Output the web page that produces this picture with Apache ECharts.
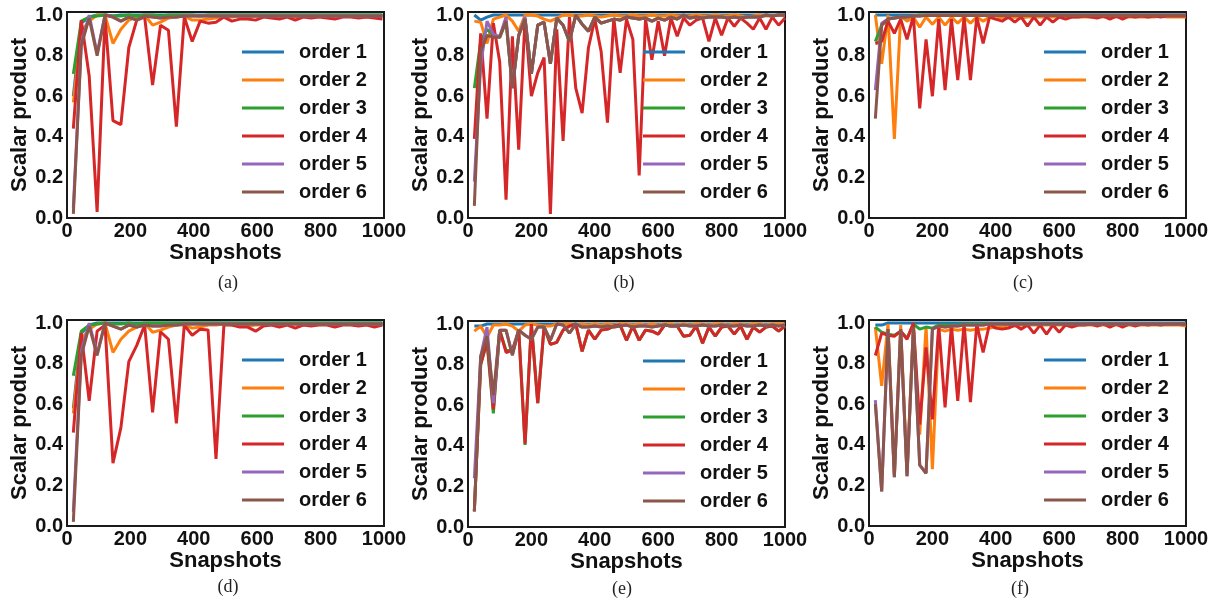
<!DOCTYPE html>
<html><head><meta charset="utf-8">
<script src="https://cdn.jsdelivr.net/npm/echarts@6/dist/echarts.min.js"></script>
<style>html,body{margin:0;padding:0;background:#fff}#c{width:1216px;height:604px}</style>
</head><body><div id="c"></div>
<script>
const orderNames = ['order 1','order 2','order 3','order 4','order 5','order 6'];
const palette = ['#1f77b4','#ff7f0e','#2ca02c','#d62728','#9467bd','#8c564b'];
const captions = ['(a)','(b)','(c)','(d)','(e)','(f)'];

// snapshots (x values)
const snapA = [20,45,70,95,120,145,170,195,220,245,270,295,320,345,370,395,420,445,470,495,520,545,570,595,620,645,670,695,720,745,770,795,820,845,870,895,920,945,970,995];
const snapB = [20,40,60,80,100,120,140,160,180,200,220,240,260,280,300,320,340,360,380,400,420,440,460,480,500,520,540,560,580,600,620,640,660,680,700,720,740,760,780,800,820,840,860,880,900,920,940,960,980,1000];

// panel (a)
const a1 = [0.60,0.96,0.99,1.0,1.0,0.995,1.0,1.0,1.0,1.0, 1.0,1.0,1.0,1.0,1.0,1.0,1.0,1.0,1.0,1.0, 1.0,1.0,1.0,1.0,1.0,1.0,1.0,1.0,1.0,1.0, 1.0,1.0,1.0,1.0,1.0,1.0,1.0,1.0,1.0,1.0];
const a2 = [0.57,0.92,0.97,1.0,1.0,0.86,0.93,0.975,0.99,1.0, 0.95,0.965,0.985,0.99,0.995,0.975,0.975,0.98,0.985,0.99, 0.99,0.995,0.99,0.995,0.995,0.99,0.995,0.995,0.99,0.995, 0.995,0.995,0.99,0.995,0.995,0.995,0.995,0.99,0.995,0.995];
const a3 = [0.71,0.97,0.99,0.995,1.0,0.995,0.995,1.0,0.995,1.0, 1.0,0.995,1.0,1.0,1.0,1.0,0.995,1.0,1.0,1.0, 1.0,1.0,1.0,1.0,1.0,1.0,1.0,1.0,1.0,1.0, 1.0,1.0,1.0,1.0,1.0,1.0,1.0,1.0,1.0,1.0];
const a4 = [0.44,0.975,0.70,0.03,0.99,0.48,0.46,0.84,0.975,0.99, 0.655,0.95,0.925,0.45,0.99,0.87,0.97,0.96,0.965,0.99, 0.97,0.98,0.98,0.975,0.99,0.985,0.98,0.99,0.975,0.99, 0.985,0.99,0.985,0.98,0.99,0.99,0.985,0.99,0.985,0.98];
const a5 = [0.05,0.86,1.0,0.81,1.0,0.99,0.97,0.99,0.975,0.995, 0.99,0.985,0.99,0.99,0.995,0.995,0.995,0.995,0.995,0.995, 0.995,0.995,0.995,0.995,0.995,0.995,0.995,0.995,0.995,0.995, 0.995,0.995,0.995,0.995,0.995,0.995,0.995,0.995,0.995,0.995];
const a6 = [0.02,0.85,0.985,0.80,1.0,0.99,0.97,0.99,0.975,0.995, 0.99,0.985,0.99,0.99,0.995,0.995,0.995,0.995,0.995,0.995, 0.995,0.995,0.995,0.995,0.995,0.995,0.995,0.995,0.995,0.995, 0.995,0.995,0.995,0.995,0.995,0.995,0.995,0.995,0.995,0.995];

// panel (b)
const b1 = [1.0,0.975,0.99,1.0,1.0,1.0,1.0,1.0,1.0,1.0, 1.0,1.0,1.0,1.0,1.0,1.0,1.0,1.0,1.0,1.0, 1.0,1.0,1.0,1.0,1.0,1.0,1.0,1.0,1.0,1.0, 1.0,1.0,1.0,1.0,1.0,1.0,1.0,1.0,1.0,1.0, 1.0,1.0,1.0,1.0,1.0,1.0,1.0,1.0,1.0,1.0];
const b2 = [0.97,0.965,0.86,0.98,0.99,1.0,0.97,0.92,1.0,1.0, 0.995,0.98,0.97,0.985,1.0,1.0,0.995,0.995,1.0,0.995, 0.99,0.995,1.0,0.995,0.995,1.0,0.995,0.995,1.0,0.995, 0.995,1.0,0.995,0.995,0.995,1.0,0.995,0.995,1.0,0.995, 0.995,1.0,0.995,0.99,0.995,1.0,0.995,0.995,1.0,0.995];
const b3 = [0.64,0.87,0.93,0.90,0.89,0.97,0.64,0.90,0.98,0.71, 0.95,0.965,0.76,0.985,0.95,0.87,1.0,0.955,0.92,0.99, 0.96,0.97,0.98,0.975,0.99,0.985,0.98,0.985,0.97,0.985, 0.975,0.99,0.98,1.0,0.985,0.99,0.985,0.99,0.99,0.99, 0.985,0.99,0.985,0.99,0.99,0.99,1.0,0.995,1.0,1.0];
const b4 = [0.39,0.91,0.49,0.96,0.77,0.09,0.895,0.337,0.985,0.60, 0.715,0.79,0.02,0.93,0.38,0.99,0.64,0.517,0.84,0.98, 0.82,0.47,0.985,0.715,0.98,0.88,0.21,0.98,0.78,0.97, 0.80,0.985,0.895,0.985,0.95,0.975,0.985,0.87,0.985,0.90, 0.985,0.945,0.985,0.96,0.93,0.985,0.93,0.99,0.95,0.985];
const b5 = [0.18,0.75,0.97,0.905,0.895,0.99,0.64,0.90,0.99,0.71, 0.95,0.965,0.76,0.985,0.95,0.87,1.0,0.955,0.92,0.99, 0.96,0.97,0.98,0.975,0.99,0.985,0.98,0.985,0.97,0.985, 0.975,0.99,0.98,1.0,0.985,0.99,0.985,0.99,0.99,0.99, 0.985,0.99,0.985,0.99,0.99,0.99,1.0,0.995,1.0,1.0];
const b6 = [0.06,0.82,0.90,0.89,0.89,0.97,0.64,0.90,0.98,0.71, 0.95,0.965,0.76,0.985,0.95,0.87,1.0,0.955,0.92,0.99, 0.96,0.97,0.98,0.975,0.99,0.985,0.98,0.985,0.97,0.985, 0.975,0.99,0.98,1.0,0.985,0.99,0.985,0.99,0.99,0.99, 0.985,0.99,0.985,0.99,0.99,0.99,1.0,0.995,1.0,1.0];

// panel (c)
const c1 = [1.0,1.0,1.0,1.0,1.0,1.0,1.0,1.0,1.0,1.0, 1.0,1.0,1.0,1.0,1.0,1.0,1.0,1.0,1.0,1.0, 1.0,1.0,1.0,1.0,1.0,1.0,1.0,1.0,1.0,1.0, 1.0,1.0,1.0,1.0,1.0,1.0,1.0,1.0,1.0,1.0, 1.0,1.0,1.0,1.0,1.0,1.0,1.0,1.0,1.0,1.0];
const c2 = [1.0,0.76,1.0,0.39,0.995,0.97,0.99,0.94,0.99,0.955, 0.99,0.95,0.99,0.96,0.99,0.96,0.99,0.97,0.99,0.98, 0.99,0.985,0.99,0.985,0.99,0.99,0.99,0.99,0.99,0.99, 0.99,0.99,0.99,0.99,0.99,0.995,0.99,0.99,0.99,0.99, 0.99,0.99,0.99,0.99,0.99,0.995,0.99,0.99,0.99,0.99];
const c3 = [0.87,0.95,0.98,0.985,0.99,0.99,0.995,1.0,1.0,1.0, 1.0,1.0,1.0,1.0,1.0,1.0,1.0,1.0,1.0,1.0, 1.0,1.0,1.0,1.0,1.0,1.0,1.0,1.0,1.0,1.0, 1.0,1.0,1.0,1.0,1.0,1.0,1.0,1.0,1.0,1.0, 1.0,1.0,1.0,1.0,1.0,1.0,1.0,1.0,1.0,1.0];
const c4 = [0.86,0.87,0.97,0.91,0.98,0.88,0.995,0.54,0.88,0.60, 0.98,0.63,0.98,0.68,0.99,0.68,0.99,0.86,0.99,0.98, 0.97,0.99,0.965,0.99,0.945,0.99,0.95,0.99,0.965,0.99, 0.98,0.99,0.99,0.995,0.99,0.985,0.995,0.98,0.995,0.98, 0.995,0.99,0.995,0.99,0.995,0.99,0.995,0.995,0.995,0.995];
const c5 = [0.63,0.96,0.98,0.985,0.99,0.99,0.995,0.995,1.0,1.0, 1.0,1.0,1.0,1.0,1.0,1.0,1.0,1.0,1.0,1.0, 1.0,1.0,1.0,1.0,1.0,1.0,1.0,1.0,1.0,1.0, 1.0,1.0,1.0,1.0,1.0,1.0,1.0,1.0,1.0,1.0, 1.0,1.0,1.0,1.0,1.0,1.0,1.0,1.0,1.0,1.0];
const c6 = [0.49,0.95,0.98,0.985,0.99,0.99,0.995,0.995,0.998,0.998, 0.998,0.998,0.998,0.998,0.998,0.998,0.998,0.998,0.998,0.998, 0.998,0.998,0.998,0.998,0.998,0.998,0.998,0.998,0.998,0.998, 0.998,0.998,0.998,0.998,0.998,0.998,0.998,0.998,0.998,0.998, 0.998,0.998,0.998,0.998,0.998,0.998,0.998,0.998,0.998,0.998];

// panel (d)
const d1 = [0.58,0.95,0.99,1.0,1.0,1.0,1.0,1.0,1.0,1.0, 1.0,1.0,1.0,1.0,1.0,1.0,1.0,1.0,1.0,1.0, 1.0,1.0,1.0,1.0,1.0,1.0,1.0,1.0,1.0,1.0, 1.0,1.0,1.0,1.0,1.0,1.0,1.0,1.0,1.0,1.0];
const d2 = [0.555,0.92,0.97,0.995,1.0,0.855,0.92,0.96,0.98,1.0, 0.955,0.965,0.98,0.99,0.99,0.975,0.98,0.99,0.99,0.995, 0.99,0.99,0.985,0.99,0.99,0.995,0.99,0.995,0.995,0.99, 0.995,0.995,0.995,0.99,0.995,0.995,0.995,0.995,0.99,0.995];
const d3 = [0.74,0.96,0.99,0.995,1.0,0.995,0.995,1.0,0.995,1.0, 1.0,1.0,1.0,1.0,1.0,1.0,1.0,1.0,1.0,1.0, 1.0,1.0,1.0,1.0,1.0,1.0,1.0,1.0,1.0,1.0, 1.0,1.0,1.0,1.0,1.0,1.0,1.0,1.0,1.0,1.0];
const d4 = [0.46,0.95,0.617,0.96,0.99,0.31,0.485,0.81,0.89,0.99, 0.56,0.957,0.92,0.506,0.99,0.94,0.97,0.966,0.33,0.99, 0.99,0.98,0.98,0.96,0.985,0.99,0.98,0.99,0.975,0.99, 0.985,0.99,0.99,0.98,0.99,0.99,0.985,0.99,0.98,0.99];
const d5 = [0.07,0.86,1.0,0.85,1.0,0.985,0.97,0.99,0.98,0.99, 0.985,0.985,0.99,0.99,0.995,0.995,0.995,0.995,0.995,0.995, 0.995,0.995,0.995,0.995,0.995,0.995,0.995,0.995,0.995,0.995, 0.995,0.995,0.995,0.995,0.995,0.995,0.995,0.995,0.995,0.995];
const d6 = [0.02,0.84,0.985,0.84,1.0,0.985,0.97,0.99,0.98,0.99, 0.985,0.985,0.99,0.99,0.995,0.995,0.995,0.995,0.995,0.995, 0.995,0.995,0.995,0.995,0.995,0.995,0.995,0.995,0.995,0.995, 0.995,0.995,0.995,0.995,0.995,0.995,0.995,0.995,0.995,0.995];

// panel (e)
const e1 = [0.99,0.99,1.0,1.0,1.0,1.0,1.0,1.0,1.0,1.0, 1.0,1.0,1.0,1.0,1.0,1.0,1.0,1.0,1.0,1.0, 1.0,1.0,1.0,1.0,1.0,1.0,1.0,1.0,1.0,1.0, 1.0,1.0,1.0,1.0,1.0,1.0,1.0,1.0,1.0,1.0, 1.0,1.0,1.0,1.0,1.0,1.0,1.0,1.0,1.0,1.0];
const e2 = [0.965,0.99,0.935,0.995,0.995,1.0,0.99,0.965,0.995,1.0, 0.995,0.99,0.99,1.0,1.0,1.0,0.995,1.0,0.995,1.0, 0.995,1.0,0.995,1.0,1.0,0.995,1.0,0.995,1.0,0.995, 1.0,1.0,0.995,1.0,0.995,1.0,1.0,0.995,1.0,1.0, 0.995,1.0,1.0,0.995,1.0,1.0,0.995,1.0,1.0,1.0];
const e3 = [0.08,0.80,0.91,0.56,0.97,0.87,0.87,0.97,0.405,1.0, 0.61,0.985,0.90,0.91,0.97,0.99,1.0,0.865,0.97,0.925, 0.97,0.975,0.99,0.995,0.92,0.99,0.92,0.97,0.965,0.95, 0.995,0.99,0.99,0.94,0.945,0.99,0.905,0.985,0.94,0.985, 0.99,0.95,0.99,0.925,0.985,0.96,0.985,0.99,0.965,0.99];
const e4 = [0.08,0.80,0.92,0.58,0.97,0.86,0.87,0.97,0.41,1.0, 0.61,0.985,0.90,0.91,0.97,0.99,1.0,0.865,0.97,0.925, 0.97,0.975,0.99,0.995,0.92,0.99,0.92,0.97,0.965,0.95, 0.995,0.99,0.99,0.94,0.945,0.99,0.905,0.985,0.94,0.985, 0.99,0.95,0.99,0.925,0.985,0.96,0.985,0.99,0.965,0.99];
const e5 = [0.24,0.84,0.985,0.61,0.97,0.97,0.85,0.97,0.945,0.925, 0.985,0.985,0.92,1.0,0.995,0.955,1.0,0.985,0.985,0.99, 0.985,0.99,0.985,0.99,0.995,0.985,0.99,0.99,0.985,0.99, 0.995,0.99,0.99,0.995,0.99,0.99,0.995,0.99,0.99,0.995, 0.99,0.99,0.995,0.99,0.99,0.995,0.99,0.995,0.99,0.995];
const e6 = [0.075,0.84,0.94,0.65,0.97,0.97,0.845,0.97,0.945,0.925, 0.985,0.985,0.92,1.0,0.995,0.955,1.0,0.985,0.985,0.99, 0.985,0.99,0.985,0.99,0.995,0.985,0.99,0.99,0.985,0.99, 0.995,0.99,0.99,0.995,0.99,0.99,0.995,0.99,0.99,0.995, 0.99,0.99,0.995,0.99,0.99,0.995,0.99,0.995,0.99,0.995];

// panel (f)
const f1 = [0.99,0.99,1.0,1.0,1.0,1.0,1.0,1.0,1.0,1.0, 1.0,1.0,1.0,1.0,1.0,1.0,1.0,1.0,1.0,1.0, 1.0,1.0,1.0,1.0,1.0,1.0,1.0,1.0,1.0,1.0, 1.0,1.0,1.0,1.0,1.0,1.0,1.0,1.0,1.0,1.0, 1.0,1.0,1.0,1.0,1.0,1.0,1.0,1.0,1.0,1.0];
const f2 = [0.98,0.69,0.995,0.25,0.99,0.26,0.99,0.45,0.985,0.28, 0.97,0.96,0.97,0.965,0.97,0.965,0.97,0.97,0.975,0.98, 0.98,0.985,0.985,0.99,0.99,0.99,0.99,0.99,0.99,0.99, 0.99,0.99,0.99,0.99,0.99,0.99,0.99,0.99,0.99,0.99, 0.99,0.99,0.99,0.99,0.99,0.99,0.99,0.99,0.99,0.985];
const f3 = [0.98,0.955,0.945,0.94,0.96,0.925,0.995,0.97,0.98,0.975, 0.99,0.99,0.99,0.99,0.995,0.995,0.995,0.995,0.995,0.995, 0.995,0.995,0.995,0.995,0.995,0.995,0.995,0.995,0.995,0.995, 0.995,0.995,0.995,0.995,0.995,0.995,0.995,0.995,0.995,0.995, 0.995,0.995,0.995,0.995,0.995,0.995,0.995,0.995,0.995,0.995];
const f4 = [0.84,0.95,0.94,0.935,0.96,0.92,1.0,0.50,0.88,0.525, 0.99,0.585,0.99,0.617,1.0,0.61,0.995,0.855,0.995,0.975, 0.97,0.975,0.99,0.97,0.99,0.95,0.99,0.945,0.99,0.955, 0.99,0.98,0.99,0.99,0.995,0.985,0.995,0.98,0.995,0.98, 0.995,0.985,0.995,0.99,0.995,0.99,0.995,0.995,0.995,0.995];
const f5 = [0.62,0.17,0.97,0.24,0.97,0.245,0.98,0.30,0.26,0.97, 0.985,0.98,0.985,0.985,0.99,0.99,0.99,0.99,0.995,0.995, 0.995,0.995,0.995,0.995,0.995,0.995,0.995,0.995,0.995,0.995, 0.995,0.995,0.995,0.995,0.995,0.995,0.995,0.995,0.995,0.995, 0.995,0.995,0.995,0.995,0.995,0.995,0.995,0.995,0.995,0.995];
const f6 = [0.60,0.17,0.97,0.24,0.97,0.245,0.98,0.30,0.26,0.97, 0.985,0.98,0.985,0.985,0.99,0.99,0.99,0.99,0.995,0.995, 0.995,0.995,0.995,0.995,0.995,0.995,0.995,0.995,0.995,0.995, 0.995,0.995,0.995,0.995,0.995,0.995,0.995,0.995,0.995,0.995, 0.995,0.995,0.995,0.995,0.995,0.995,0.995,0.995,0.995,0.995];

const panels = [
  {x: snapA, ys: [a1,a2,a3,a4,a5,a6], left: 67,  top: 12,  capX: 228,  capY: 283},
  {x: snapB, ys: [b1,b2,b3,b4,b5,b6], left: 468, top: 12,  capX: 624,  capY: 283},
  {x: snapB, ys: [c1,c2,c3,c4,c5,c6], left: 869, top: 12,  capX: 1023, capY: 283},
  {x: snapA, ys: [d1,d2,d3,d4,d5,d6], left: 67,  top: 320, capX: 228,  capY: 587},
  {x: snapB, ys: [e1,e2,e3,e4,e5,e6], left: 468, top: 321, capX: 622,  capY: 589},
  {x: snapB, ys: [f1,f2,f3,f4,f5,f6], left: 869, top: 320, capX: 1020, capY: 589}
];

const W = 317, H = 206;
const FONT = '"Liberation Sans", Arial, sans-serif';
const grid = [], xAxis = [], yAxis = [], series = [], legend = [], graphic = [];

panels.forEach((p, i) => {
  grid.push({left: p.left, top: p.top, width: W, height: H, show: true,
    borderColor: '#1a1a1a', borderWidth: 2, backgroundColor: 'transparent', containLabel: false});
  xAxis.push({type: 'value', gridIndex: i, min: 0, max: 1000, interval: 200,
    name: 'Snapshots', nameLocation: 'middle', nameGap: 19,
    nameTextStyle: {fontSize: 22, fontWeight: 'bold', color: '#111', fontFamily: FONT},
    axisLine: {show: false}, axisTick: {show: false}, splitLine: {show: false},
    axisLabel: {fontSize: 20, fontWeight: 'bold', color: '#111', fontFamily: FONT, margin: 3,
      formatter: v => String(Math.round(v))}});
  yAxis.push({type: 'value', gridIndex: i, min: 0, max: 1.015, interval: 0.2,
    name: 'Scalar product', nameLocation: 'middle', nameGap: 31,
    nameTextStyle: {fontSize: 22, fontWeight: 'bold', color: '#111', fontFamily: FONT},
    axisLine: {show: false}, axisTick: {show: false}, splitLine: {show: false},
    axisLabel: {fontSize: 20, fontWeight: 'bold', color: '#111', fontFamily: FONT, margin: 4,
      formatter: v => (v > 1.0001 ? '' : v.toFixed(1))}});
  p.ys.forEach((ys, j) => {
    series.push({type: 'line', name: orderNames[j], xAxisIndex: i, yAxisIndex: i,
      data: p.x.map((x, k) => [x, ys[k]]), showSymbol: false, symbol: 'none',
      color: palette[j], lineStyle: {width: 3, color: palette[j]}, itemStyle: {color: palette[j]},
      animation: false, z: 2});
  });
  legend.push({orient: 'vertical', left: p.left + 175, top: p.top + 30, padding: 0,
    itemWidth: 42, itemHeight: 3, itemGap: 8, icon: 'rect', selectedMode: false,
    data: orderNames,
    textStyle: {fontSize: 20, fontWeight: 'bold', color: '#111', fontFamily: FONT, lineHeight: 20, padding: [0,0,0,10]}});
  graphic.push({type: 'text', x: p.capX, y: p.capY,
    style: {text: captions[i], fill: '#222', font: '18px "Liberation Serif", "Times New Roman", serif',
      align: 'center', verticalAlign: 'middle', textAlign: 'center', textVerticalAlign: 'middle'}});
});

const chart = echarts.init(document.getElementById('c'), null, {renderer: 'canvas'});
chart.setOption({backgroundColor: '#fff', animation: false, grid, xAxis, yAxis, series, legend, graphic});
</script></body></html>
